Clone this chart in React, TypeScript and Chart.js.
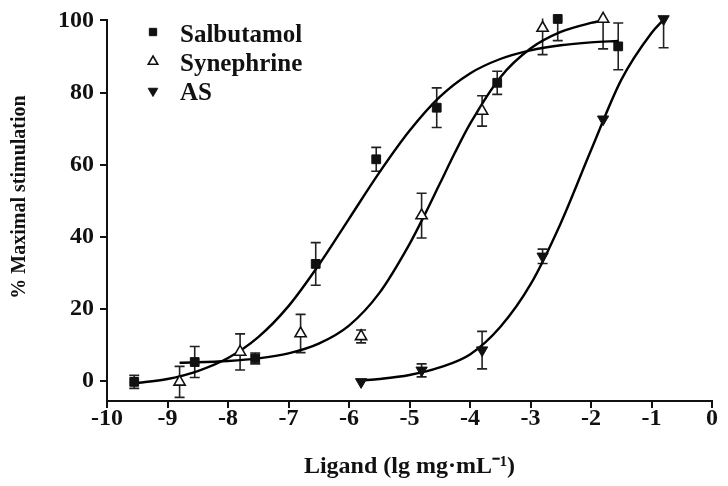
import React, { useEffect, useRef } from "react";
import { Chart, registerables } from "chart.js";
import { drawPoint } from "chart.js/helpers";

Chart.register(...registerables);

// Measured points (x in lg mg·mL-1, y in % maximal stimulation, symmetric SEM)
const salbutamolX = [-9.55, -8.55, -7.55, -6.55, -5.55, -4.55, -3.55, -2.55, -1.55];
const salbutamolY = [-0.2, 5.3, 6.3, 32.5, 61.5, 75.8, 82.7, 100.4, 92.8];
const salbutamolErr = [1.8, 4.3, 1.5, 5.9, 3.3, 5.5, 3.2, 6, 6.5];

const synephrineX = [-8.8, -7.8, -6.8, -5.8, -4.8, -3.8, -2.8, -1.8];
const synephrineY = [-0.2, 8.1, 13.2, 12.4, 45.9, 74.9, 97.9, 100.4];
const synephrineErr = [4.3, 5, 5.3, 1.8, 6.2, 4.2, 7.4, 8.3];

const asX = [-5.8, -4.8, -3.8, -2.8, -1.8, -0.8];
const asY = [-0.2, 3, 8.6, 34.6, 72.6, 100.4];
const asErr = [0, 1.8, 5.2, 2, 0, 8];

// Fitted curves
const salbCurveX = [-9.55, -9, -8.5, -8, -7.5, -7, -6.5, -6, -5.5, -5, -4.5, -4, -3.5, -3, -2.5, -2, -1.55];
const salbCurveY = [-0.6, 0.6, 2.8, 6.4, 12.2, 20.8, 32.2, 45, 57.8, 69.4, 78.8, 85.3, 89.3, 91.7, 93.1, 93.9, 94.3];

const synCurveX = [-8.8, -8, -7.5, -7, -6.5, -6, -5.5, -5, -4.75, -4.5, -4.25, -4, -3.5, -3, -2.5, -2, -1.8];
const synCurveY = [5.1, 5.6, 6.3, 7.7, 10.4, 15.4, 24.4, 38, 46.1, 54.7, 63.3, 71.3, 84.2, 92.2, 96.8, 99.3, 100];

const asCurveX = [-5.8, -5.5, -5, -4.5, -4, -3.5, -3, -2.5, -2, -1.5, -1, -0.8];
const asCurveY = [0.2, 0.6, 1.7, 3.8, 7.4, 15, 26.8, 43.8, 64, 83.5, 96.5, 100.2];

const yTicks = [0, 20, 40, 60, 80, 100];
const seriesNames = ["Salbutamol", "Synephrine", "AS"];
const xTitle = "Ligand (lg mg·mL⁻¹)";
const yTitle = "% Maximal stimulation";

const FONT = "'Liberation Serif', 'Times New Roman', serif";

const pts = (xs: number[], ys: number[]) => xs.map((x, i) => ({ x, y: ys[i] }));

const errorBarPlugin = {
  id: "errorBars",
  beforeDatasetsDraw(chart: any) {
    const { ctx, scales, chartArea } = chart;
    const xs = scales.x;
    const ys = scales.y;
    ctx.save();
    ctx.beginPath();
    ctx.rect(0, chartArea.top - 2, chart.width, chart.height);
    ctx.clip();
    ctx.strokeStyle = "#222";
    ctx.lineWidth = 1.6;
    chart.data.datasets.forEach((ds: any) => {
      const errs = ds.errors;
      if (!errs) return;
      ds.data.forEach((p: any, i: number) => {
        const e = errs[i];
        if (!e) return;
        const px = xs.getPixelForValue(p.x);
        const yt = ys.getPixelForValue(p.y + e);
        const yb = ys.getPixelForValue(p.y - e);
        ctx.beginPath();
        ctx.moveTo(px, yt);
        ctx.lineTo(px, yb);
        ctx.moveTo(px - 5, yt);
        ctx.lineTo(px + 5, yt);
        ctx.moveTo(px - 5, yb);
        ctx.lineTo(px + 5, yb);
        ctx.stroke();
      });
    });
    ctx.restore();
  },
};

const legendPlugin = {
  id: "insideLegend",
  afterDraw(chart: any) {
    const { ctx } = chart;
    const rows = [41.5, 70.5, 99.5];
    const markerY = [32, 61.5, 91];
    ctx.save();
    for (let i = 0; i < 3; i++) {
      const ds = chart.data.datasets[i];
      ctx.fillStyle = ds.pointBackgroundColor;
      ctx.strokeStyle = ds.pointBorderColor;
      ctx.lineWidth = ds.pointBorderWidth;
      drawPoint(
        ctx,
        {
          pointStyle: ds.pointStyle,
          rotation: ds.pointRotation || 0,
          radius: ds.pointRadius - 1,
          borderWidth: ds.pointBorderWidth,
        } as any,
        153,
        markerY[i]
      );
      ctx.fillStyle = "#111";
      ctx.font = `bold 25px ${FONT}`;
      ctx.textAlign = "left";
      ctx.textBaseline = "alphabetic";
      ctx.fillText(seriesNames[i], 180, rows[i]);
    }
    // y-axis title, placed where the reference puts it (slightly above axis centre)
    ctx.translate(20, 197);
    ctx.rotate(-Math.PI / 2);
    ctx.font = `bold 20px ${FONT}`;
    ctx.textAlign = "center";
    ctx.textBaseline = "middle";
    ctx.fillText(yTitle, 0, 0);
    ctx.restore();
  },
};

export default function App() {
  const ref = useRef<HTMLCanvasElement | null>(null);

  useEffect(() => {
    if (!ref.current) return;
    const chart = new Chart(ref.current, {
      type: "scatter",
      data: {
        datasets: [
          {
            label: seriesNames[0],
            data: pts(salbutamolX, salbutamolY),
            errors: salbutamolErr,
            pointStyle: "rect",
            pointRadius: 6.2,
            pointBackgroundColor: "#111",
            pointBorderColor: "#111",
            pointBorderWidth: 1,
            showLine: false,
            clip: false,
          } as any,
          {
            label: seriesNames[1],
            data: pts(synephrineX, synephrineY),
            errors: synephrineErr,
            pointStyle: "triangle",
            pointRadius: 6.5,
            pointBackgroundColor: "#fff",
            pointBorderColor: "#111",
            pointBorderWidth: 1.6,
            showLine: false,
            clip: false,
          } as any,
          {
            label: seriesNames[2],
            data: pts(asX, asY),
            errors: asErr,
            pointStyle: "triangle",
            pointRotation: 180,
            pointRadius: 6.5,
            pointBackgroundColor: "#111",
            pointBorderColor: "#111",
            pointBorderWidth: 1,
            showLine: false,
            clip: false,
          } as any,
          {
            label: "Salbutamol fit",
            data: pts(salbCurveX, salbCurveY),
            showLine: true,
            pointRadius: 0,
            borderColor: "#000",
            borderWidth: 2.4,
            cubicInterpolationMode: "monotone",
            clip: false,
          } as any,
          {
            label: "Synephrine fit",
            data: pts(synCurveX, synCurveY),
            showLine: true,
            pointRadius: 0,
            borderColor: "#000",
            borderWidth: 2.4,
            cubicInterpolationMode: "monotone",
            clip: false,
          } as any,
          {
            label: "AS fit",
            data: pts(asCurveX, asCurveY),
            showLine: true,
            pointRadius: 0,
            borderColor: "#000",
            borderWidth: 2.4,
            cubicInterpolationMode: "monotone",
            clip: false,
          } as any,
        ],
      },
      options: {
        responsive: false,
        animation: false,
        layout: { padding: { left: 0, right: 16, top: 19, bottom: 0 } },
        plugins: {
          legend: { display: false },
          tooltip: { enabled: false },
        },
        scales: {
          x: {
            type: "linear",
            min: -10,
            max: 0,
            ticks: {
              stepSize: 1,
              color: "#111",
              font: { family: FONT, size: 24, weight: "bold" },
              padding: -4,
              maxRotation: 0,
              autoSkip: false,
              callback: (v: any) => String(v),
            },
            grid: {
              drawOnChartArea: false,
              drawTicks: true,
              tickLength: 7,
              color: "#111",
              lineWidth: 2,
            },
            border: { display: true, color: "#111", width: 2 },
            title: {
              display: true,
              text: xTitle,
              color: "#111",
              font: { family: FONT, size: 24, weight: "bold" },
              padding: { top: 0, bottom: 5 },
            },
            afterFit: (s: any) => {
              s.height = 85;
            },
          },
          y: {
            type: "linear",
            min: -5.5,
            max: 100,
            afterBuildTicks: (s: any) => {
              s.ticks = yTicks.map((v) => ({ value: v }));
            },
            ticks: {
              color: "#111",
              font: { family: FONT, size: 24, weight: "bold" },
              padding: 6,
              callback: (v: any) => String(v),
            },
            grid: {
              drawOnChartArea: false,
              drawTicks: true,
              tickLength: 7,
              color: "#111",
              lineWidth: 2,
            },
            border: { display: true, color: "#111", width: 2 },
            title: { display: false, text: yTitle },
            afterFit: (s: any) => {
              s.width = 107;
            },
          },
        },
      } as any,
      plugins: [errorBarPlugin, legendPlugin],
    });
    return () => chart.destroy();
  }, []);

  return (
    <div style={{ position: "absolute", left: 0, top: 0, width: 728, height: 486, background: "#fff" }}>
      <canvas ref={ref} width={728} height={486} style={{ width: 728, height: 486, display: "block" }} />
    </div>
  );
}
